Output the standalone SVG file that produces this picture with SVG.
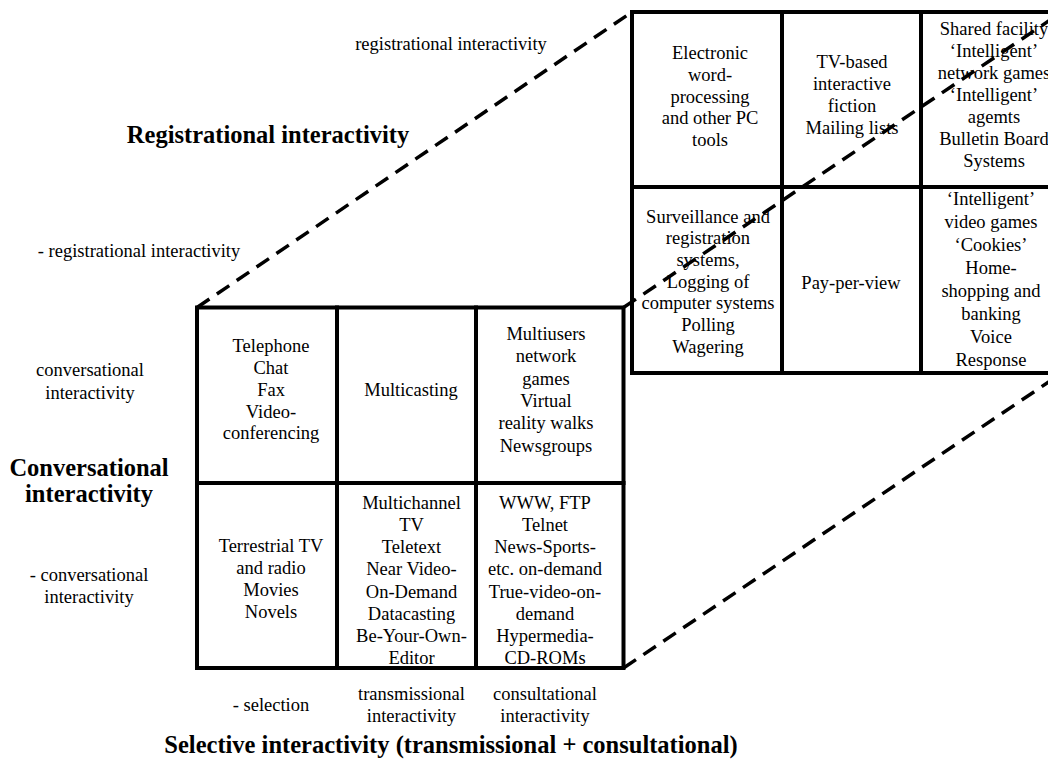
<svg xmlns="http://www.w3.org/2000/svg" width="1048" height="760" viewBox="0 0 1048 760" font-family="'Liberation Serif', 'DejaVu Serif', 'Noto Serif', 'Times New Roman', Times, serif">
<style>
text{font-family:'Liberation Serif','DejaVu Serif','Times New Roman',Times,serif;fill:#000;text-anchor:middle}
.c{font-size:18.5px}
.l{font-size:18.5px}
.b{font-size:24.5px;font-weight:bold}
.cell{fill:none;stroke:#000;stroke-width:4;stroke-linejoin:miter}
.dash{fill:none;stroke:#000;stroke-width:3.5;stroke-dasharray:15 9}
</style>
<rect width="1048" height="760" fill="#fff"/>

<g id="labels" font-family="'Liberation Serif', serif">
<text class="l" x="451" y="50">registrational interactivity</text>
<text class="b" x="268" y="143">Registrational interactivity</text>
<text class="l" x="139" y="257">- registrational interactivity</text>
<text class="l" x="90" y="376">conversational<tspan x="90" y="399">interactivity</tspan></text>
<text class="b" x="89" y="476">Conversational<tspan x="89" y="502">interactivity</tspan></text>
<text class="l" x="89" y="581">- conversational<tspan x="89" y="603">interactivity</tspan></text>
<text class="l" x="271" y="711">- selection</text>
<text class="l" x="411.5" y="700">transmissional<tspan x="411.5" y="722">interactivity</tspan></text>
<text class="l" x="545" y="700">consultational<tspan x="545" y="722">interactivity</tspan></text>
<text class="b" x="451" y="753">Selective interactivity (transmissional + consultational)</text>
</g>

<g id="cell-reg-transmissional" font-family="'Liberation Serif', serif">
<text class="c" x="710" y="59">Electronic<tspan x="710" y="80.8">word-</tspan><tspan x="710" y="102.6">processing</tspan><tspan x="710" y="124.4">and other PC</tspan><tspan x="710" y="146.2">tools</tspan></text>
<rect class="cell" x="632" y="12" width="150" height="175"/>
</g>
<g id="cell-reg-consult" font-family="'Liberation Serif', serif">
<text class="c" x="852" y="68">TV-based<tspan x="852" y="90">interactive</tspan><tspan x="852" y="112">fiction</tspan><tspan x="852" y="134">Mailing lists</tspan></text>
<rect class="cell" x="782" y="12" width="139" height="175"/>
</g>
<g id="cell-reg-conv" font-family="'Liberation Serif', serif">
<text class="c" x="994" y="35">Shared facility<tspan x="994" y="57">‘Intelligent’</tspan><tspan x="994" y="79">network games</tspan><tspan x="994" y="101">‘Intelligent’</tspan><tspan x="994" y="123">agemts</tspan><tspan x="994" y="145">Bulletin Board</tspan><tspan x="994" y="167">Systems</tspan></text>
<rect class="cell" x="921" y="12" width="141" height="175"/>
</g>
<g id="cell-reg2-a" font-family="'Liberation Serif', serif">
<text class="c" x="708" y="222.5">Surveillance and<tspan x="708" y="244.2">registration</tspan><tspan x="708" y="265.9">systems,</tspan><tspan x="708" y="287.6">Logging of</tspan><tspan x="708" y="309.3">computer systems</tspan><tspan x="708" y="331">Polling</tspan><tspan x="708" y="352.7">Wagering</tspan></text>
<rect class="cell" x="632" y="187" width="150" height="186"/>
</g>
<g id="cell-reg2-b" font-family="'Liberation Serif', serif">
<text class="c" x="851" y="289">Pay-per-view</text>
<rect class="cell" x="782" y="187" width="139" height="186"/>
</g>
<g id="cell-reg2-c" font-family="'Liberation Serif', serif">
<text class="c" x="991" y="205">‘Intelligent’<tspan x="991" y="228">video games</tspan><tspan x="991" y="251">‘Cookies’</tspan><tspan x="991" y="274">Home-</tspan><tspan x="991" y="297">shopping and</tspan><tspan x="991" y="320">banking</tspan><tspan x="991" y="343">Voice</tspan><tspan x="991" y="366">Response</tspan></text>
<rect class="cell" x="921" y="187" width="141" height="186"/>
</g>

<g id="cell-conv-a" font-family="'Liberation Serif', serif">
<rect x="197" y="307.5" width="426.5" height="360.5" fill="#fff"/>
<text class="c" x="271" y="352">Telephone<tspan x="271" y="374">Chat</tspan><tspan x="271" y="396">Fax</tspan><tspan x="271" y="417.5">Video-</tspan><tspan x="271" y="439">conferencing</tspan></text>
<rect class="cell" x="197" y="307.5" width="140" height="175.5"/>
</g>
<g id="cell-conv-b" font-family="'Liberation Serif', serif">
<text class="c" x="411" y="396">Multicasting</text>
<rect class="cell" x="337" y="307.5" width="139" height="175.5"/>
</g>
<g id="cell-conv-c" font-family="'Liberation Serif', serif">
<text class="c" x="546" y="340">Multiusers<tspan x="546" y="362.3">network</tspan><tspan x="546" y="384.6">games</tspan><tspan x="546" y="406.9">Virtual</tspan><tspan x="546" y="429.2">reality walks</tspan><tspan x="546" y="451.5">Newsgroups</tspan></text>
<rect class="cell" x="476" y="307.5" width="147.5" height="175.5"/>
</g>
<g id="cell-sel-a" font-family="'Liberation Serif', serif">
<text class="c" x="271" y="551.5">Terrestrial TV<tspan x="271" y="573.7">and radio</tspan><tspan x="271" y="595.9">Movies</tspan><tspan x="271" y="618.1">Novels</tspan></text>
<rect class="cell" x="197" y="483" width="140" height="185"/>
</g>
<g id="cell-sel-b" font-family="'Liberation Serif', serif">
<text class="c" x="411.5" y="509">Multichannel<tspan x="411.5" y="531.1">TV</tspan><tspan x="411.5" y="553.3">Teletext</tspan><tspan x="411.5" y="575.4">Near Video-</tspan><tspan x="411.5" y="597.6">On-Demand</tspan><tspan x="411.5" y="619.7">Datacasting</tspan><tspan x="411.5" y="641.9">Be-Your-Own-</tspan><tspan x="411.5" y="664">Editor</tspan></text>
<rect class="cell" x="337" y="483" width="139" height="185"/>
</g>
<g id="cell-sel-c" font-family="'Liberation Serif', serif">
<text class="c" x="545" y="509">WWW, FTP<tspan x="545" y="531.1">Telnet</tspan><tspan x="545" y="553.3">News-Sports-</tspan><tspan x="545" y="575.4">etc. on-demand</tspan><tspan x="545" y="597.6">True-video-on-</tspan><tspan x="545" y="619.7">demand</tspan><tspan x="545" y="641.9">Hypermedia-</tspan><tspan x="545" y="664">CD-ROMs</tspan></text>
<rect class="cell" x="476" y="483" width="147.5" height="185"/>
</g>

<g id="connectors">
<line class="dash" x1="197" y1="307.5" x2="632" y2="12"/>
<line class="dash" x1="623.5" y1="307.5" x2="1062" y2="12"/>
<line class="dash" x1="623.5" y1="668" x2="1062" y2="373"/>
</g>
</svg>
